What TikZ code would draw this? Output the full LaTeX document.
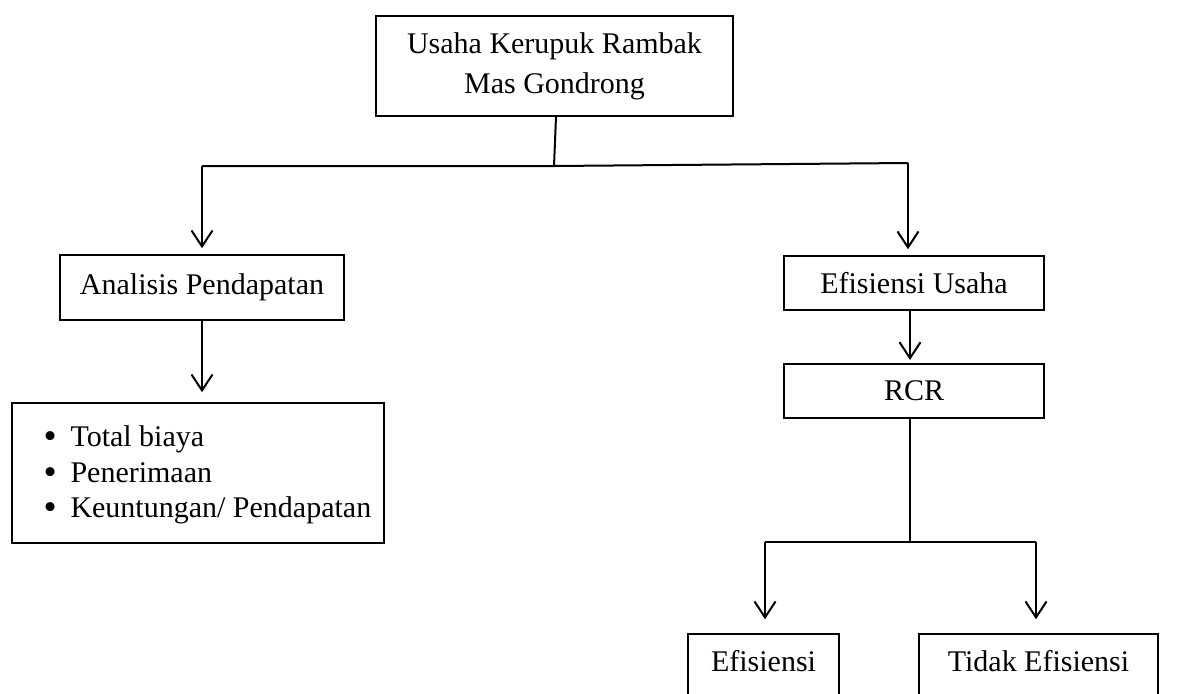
\documentclass[tikz,border=0pt,12pt]{standalone}
\usepackage{fontspec}
\setmainfont{Liberation Serif}
\usetikzlibrary{arrows.meta}

\tikzset{
  box/.style={draw, line width=0.6pt, inner sep=0pt, align=center,
              font=\fontsize{12}{16}\selectfont},
  cutbox/.style={box, text height=8pt, text depth=4.2pt},
  link/.style={line width=0.8pt},
  arr/.style={link, -{Straight Barb[length=6.4pt,width=8.4pt]}}
}
\newcommand{\butir}{\makebox[10.8pt][l]{\smash{\raisebox{-0.8pt}{\fontsize{15}{12}\selectfont\textbullet}}}}

\begin{document}
\begin{tikzpicture}[x=0.4pt, y=-0.4pt]
\def \xl {202};
\def \xr {908};
\def \xrcr {910};
\def \xe {765};
\def \xt {1036};

\def \yfork {166};
\def \ysplit {542};

\useasboundingbox (0,0) rectangle (1198,693);

\node [box, minimum width=142.8pt, minimum height=40pt] (usaha) at (554.5, 66)
  {Usaha Kerupuk Rambak\\Mas Gondrong};
\node [box, minimum width=113.6pt, minimum height=26pt] (pendapatan) at (202, 287.5)
  {Analisis Pendapatan};
\node [box, minimum width=148.8pt, minimum height=56pt] (rincian) at (198, 473) {};
\node [anchor=west, align=left, inner sep=0pt, font=\fontsize{12}{14.2}\selectfont] (isi) at (43, 475)
  {\butir Total biaya\\
   \butir Penerimaan\\
   \butir Keuntungan/ Pendapatan};
\node [box, minimum width=104pt, minimum height=21.6pt] (efusaha) at (914, 283)
  {Efisiensi Usaha};
\node [box, minimum width=104pt, minimum height=21.6pt] (rcr) at (914, 391)
  {RCR};
% bottom boxes run off the page
\node [cutbox, minimum width=60.4pt, minimum height=26.4pt] (efisien) at (763.5, 667)
  {Efisiensi};
\node [cutbox, minimum width=95.6pt, minimum height=26.4pt] (tidak) at (1038.5, 667)
  {Tidak Efisiensi};

% fork under the top box
\coordinate (fork) at (554, \yfork);
\coordinate (forkl) at (\xl, \yfork);
\coordinate (forkr) at (\xr, 163);
\draw [link] (usaha.south) ++(1.5,0) -- (fork);
\draw [link] (forkl) -- (fork) -- (forkr);
\draw [arr, shorten >=2.4pt] (forkl) -- (forkl |- pendapatan.north);
\draw [arr, shorten >=2.4pt] (forkr) -- (forkr |- efusaha.north);

\draw [arr, shorten >=4pt] (pendapatan.south) -- (pendapatan.south |- rincian.north);
\draw [arr, shorten >=1.6pt] (\xrcr, 310) -- (\xrcr, 364);

% split under RCR
\coordinate (split) at (\xrcr, \ysplit);
\coordinate (splitl) at (\xe, \ysplit);
\coordinate (splitr) at (\xt, \ysplit);
\draw [link] (\xrcr, 418) -- (split);
\draw [link] (splitl) -- (splitr);
\draw [arr, shorten >=5.6pt] (splitl) -- (splitl |- efisien.north);
\draw [arr, shorten >=5.6pt] (splitr) -- (splitr |- tidak.north);

\end{tikzpicture}
\end{document}
